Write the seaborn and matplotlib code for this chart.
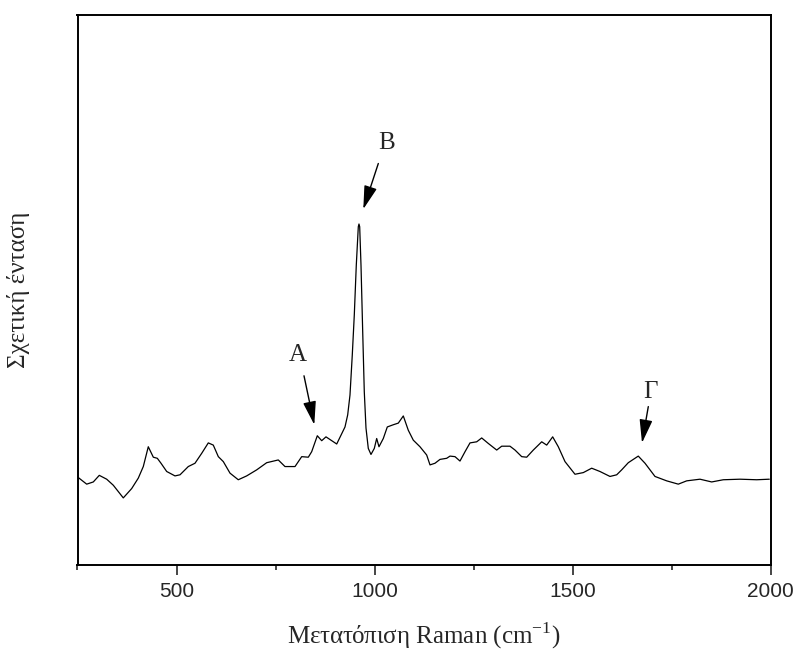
import numpy as np
import seaborn as sns
import matplotlib.pyplot as plt

# Raman shift (cm^-1) and relative intensity (a.u.)
shift = [252, 273.2, 289.9, 305, 323.7, 340.4, 365.6, 386.8, 403.5, 416.1,
         428.7, 441.4, 451.5, 460.8, 475.2, 496.1, 508.8, 529.7, 546.6, 563.5, 580.2,
         592.8, 605.5, 618.1, 635.0, 655.9, 677.1, 702.4, 727.6, 756.9, 773.8,
         799.1, 816.0, 832.7, 841.2, 855.4, 866.5, 877.3, 904.4, 915.2, 925.3,
         932.1, 937.9, 943.7, 948.8, 953.8, 958.9, 960.6, 962.4, 965.7, 970.0,
         974.0, 978.3, 984.1, 990.9, 999.3, 1005.3, 1011.1, 1022.0,
         1032.1, 1047.2, 1059.9, 1072.5, 1085.1, 1097.7, 1114.6, 1131.5,
         1139.9, 1152.5, 1165.1, 1182.0, 1190.4, 1203.0, 1215.6, 1228.3, 1240.9, 1257.8,
         1270.4, 1287.1, 1308.3, 1320.9, 1341.8, 1354.5, 1371.4, 1384.0, 1400.7, 1421.9,
         1434.5, 1449.6, 1463.8, 1480.7, 1505.9, 1526.9, 1548.1, 1569.0, 1594.3, 1611.2,
         1623.8, 1640.5, 1665.7, 1682.7, 1707.9, 1737.4, 1766.7, 1787.9, 1821.5, 1851.0,
         1880.3, 1922.5, 1964.6, 1996.5]
intensity = [15.9, 14.7, 15.1, 16.3, 15.6, 14.5, 12.2, 13.9, 15.8, 17.9,
             21.5, 19.6, 19.4, 18.5, 17.0, 16.2, 16.4, 17.9, 18.5, 20.3, 22.2,
             21.8, 19.7, 18.8, 16.7, 15.5, 16.2, 17.3, 18.6, 19.1, 17.9,
             17.9, 19.7, 19.6, 20.6, 23.5, 22.6, 23.3, 22.0, 23.6, 25.1,
             27.3, 30.9, 38.2, 45.5, 54.5, 61.5, 62.0, 61.5, 54.5, 42.4,
             31.5, 24.9, 21.2, 20.1, 21.2, 23.0, 21.5, 23.0,
             25.1, 25.5, 25.8, 27.1, 24.5, 22.7, 21.5, 20.0,
             18.2, 18.5, 19.2, 19.4, 19.8, 19.7, 18.9, 20.6, 22.2, 22.4,
             23.1, 22.1, 20.9, 21.6, 21.6, 20.9, 19.7, 19.6, 20.9, 22.4,
             21.8, 23.3, 21.5, 18.8, 16.5, 16.8, 17.6, 17.0, 16.1, 16.4,
             17.3, 18.6, 19.8, 18.5, 16.1, 15.3, 14.7, 15.3, 15.6, 15.1,
             15.5, 15.6, 15.5, 15.6]

# band labels: text position, arrow tail, arrow tip
band_labels = ["A", "B", "Γ"]
label_pos = [(806.7, 38.2), (1030.6, 76.7), (1695.3, 31.5)]
arrow_tail = [(821.8, 34.4), (1009.4, 73.0), (1691.0, 28.8)]
arrow_tip = [(847.8, 25.5), (971.5, 64.7), (1675.1, 22.2)]

major_ticks = [500, 1000, 1500, 2000]
minor_ticks = [250, 750, 1250, 1750]

sns.set_style("ticks")
plt.rcParams['font.family'] = ['Liberation Serif', 'DejaVu Serif']
plt.rcParams['mathtext.fontset'] = 'custom'
plt.rcParams['mathtext.rm'] = 'Liberation Serif'

fig, ax = plt.subplots(figsize=(7.96, 6.52), dpi=100)
fig.subplots_adjust(left=77.5 / 796, right=770.7 / 796,
                    bottom=1 - 565 / 652, top=1 - 15 / 652)

sns.lineplot(x=shift, y=intensity, color="black", linewidth=0.9, ax=ax)

for txt, pos, tail, tip in zip(band_labels, label_pos, arrow_tail, arrow_tip):
  ax.text(pos[0], pos[1], txt, fontsize=18, ha="center", va="center")
  ax.annotate("", xy=tip, xytext=tail,
              arrowprops=dict(arrowstyle="-|>,head_length=0.9,head_width=0.25",
                              color="black", lw=1.0, mutation_scale=16,
                              shrinkA=0, shrinkB=0))

ax.set_xlim(250, 2000)
ax.set_ylim(0, 100)
ax.set_xticks(major_ticks)
ax.set_xticks(minor_ticks, minor=True)
ax.set_yticks([])
for lab in ax.get_xticklabels():
  lab.set_family("Liberation Sans")
  lab.set_fontsize(15)
ax.tick_params(axis="x", which="major", length=7, width=1.2, pad=5.5, direction="out")
ax.tick_params(axis="x", which="minor", length=3.5, width=1.2, direction="out")

for side in ax.spines.values():
  side.set_visible(True)
  side.set_linewidth(1.4)
  side.set_color("black")

ax.set_xlabel(r"Μετατόπιση Raman (cm$^{\mathregular{-1}}$)", fontsize=18)
ax.set_ylabel("Σχετική ένταση", fontsize=18)
ax.xaxis.set_label_coords(0.5, -0.1)
ax.yaxis.set_label_coords(-0.068, 0.5)

fig.savefig("out.png", dpi=100)
